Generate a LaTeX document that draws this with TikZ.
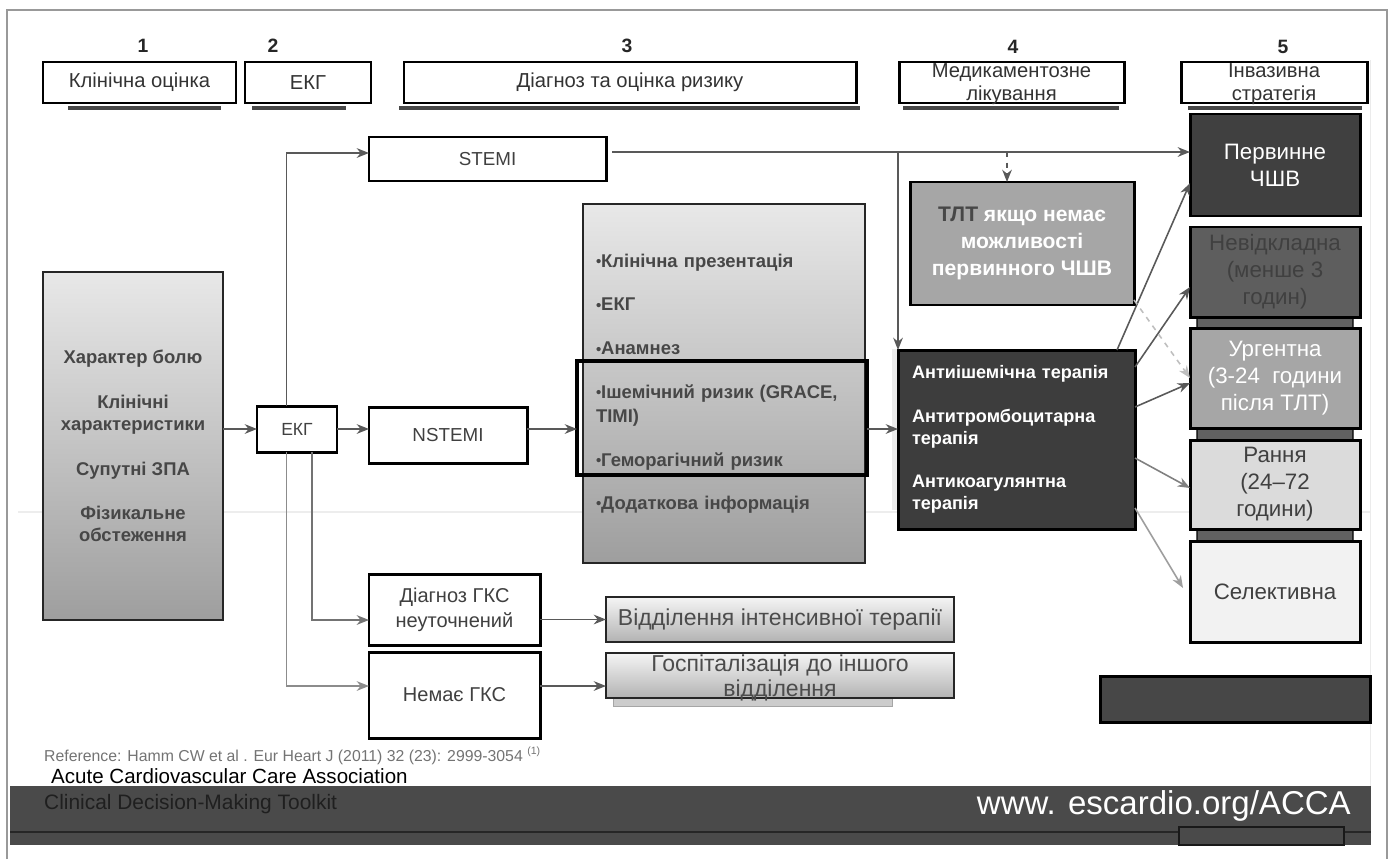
\documentclass[tikz,border=0pt]{standalone}
\usepackage{fontspec}
\setmainfont{Liberation Sans}
\usetikzlibrary{arrows.meta}
\newcommand\itm{\raisebox{0.3pt}{\fontsize{8.5}{8.5}\selectfont •}}

\begin{document}
\begin{tikzpicture}[x=0.02cm,y=-0.02cm,
  box/.style={draw,line width=1.7pt,inner sep=0pt,outer sep=0pt,align=center},
  hdr/.style={box,fill=white,minimum height=41*\px},
  htxt/.style={align=center,text=black!80,font=\fontsize{11.5}{13}\selectfont},
  num/.style={font=\bfseries\fontsize{11}{11}\selectfont,text=black!85},
  bar/.style={fill=black!72},
  wbox/.style={box,fill=white,text=black!75,font=\fontsize{11.4}{14.2}\selectfont},
  gbox/.style={draw=black!85,line width=0.6pt,inner sep=0pt,outer sep=0pt,top color=black!9,bottom color=black!38},
  btxt/.style={font=\bfseries\fontsize{10.5}{12.5}\selectfont,text=black!72},
  col/.style={box,minimum width=170*\px,font=\fontsize{12.7}{15.3}\selectfont},
  stack/.style={draw=black,line width=0.8pt,fill=black!62,rounded corners=1pt},
  conn/.style={-{Stealth[length=7pt,width=5.5pt]},line width=0.9pt,draw=black!65},
]
\def\px{0.02cm}

\useasboundingbox (0,0) rectangle (1392,859);
\draw[black!40,line width=0.9pt] (7,859) -- (7,10) -- (1387,10) -- (1387,859);
\draw[black!8] (1370,60) -- (1370,786);
\draw[black!7,line width=0.8pt] (18,512) -- (1370,512);

% column heads
\node[num] (n1) at (143,46) {1};
\node[num] (n2) at (273,46) {2};
\node[num] (n3) at (627,46) {3};
\node[num] (n4) at (1013,47) {4};
\node[num] (n5) at (1283,47) {5};
\node[hdr,htxt,minimum width=193*\px] (h1) at (139.5,82.5) {Клінічна оцінка};
\node[hdr,htxt,minimum width=126*\px] (h2) at (308,82.5) {ЕКГ};
\node[hdr,htxt,minimum width=452*\px] (h3) at (630,82.5) {Діагноз та оцінка ризику};
\node[hdr,minimum width=225*\px] (h4) at (1011.5,82.5) {};
\node[htxt] (h4t) at (1011.5,84) {Медикаментозне\\лікування};
\node[hdr,minimum width=186*\px] (h5) at (1274,82.5) {};
\node[htxt] (h5t) at (1274,84) {Інвазивна\\стратегія};
\fill[bar] (68,106) rectangle (221,110);
\fill[bar] (252,106) rectangle (346,110);
\fill[bar] (399,106) rectangle (860,110);
\fill[bar] (903,106) rectangle (1119,110);
\fill[bar] (1188,106) rectangle (1362,110);

% assessment and risk
\node[gbox,btxt,align=center,minimum width=180*\px,minimum height=348*\px] (pain) at (133,446)
  {Характер болю\\[13pt]Клінічні\\характеристики\\[13pt]Супутні ЗПА\\[13pt]Фізикальне\\обстеження};
\node[box,text=black!75,font=\fontsize{10}{12}\selectfont,minimum width=80*\px,minimum height=46*\px] (ekg) at (297,429) {ЕКГ};
\node[box,text=black!75,font=\fontsize{10.7}{12}\selectfont,minimum width=237*\px,minimum height=44*\px] (stemi) at (487.5,159) {STEMI};
\node[box,text=black!75,font=\fontsize{10.7}{12}\selectfont,minimum width=158*\px,minimum height=56*\px] (nstemi) at (448,435) {NSTEMI};
\node[gbox,font=\bfseries\fontsize{10.5}{13.6}\selectfont,text=black!72,align=left,text width=256*\px,minimum width=282*\px,minimum height=359*\px] (risk) at (724,383.5)
  {\itm Клінічна презентація\\[11.3pt]\itm ЕКГ\\[11.3pt]\itm Анамнез\\[11.3pt]\itm Ішемічний ризик (GRACE,\\TIMI)\\[11.3pt]\itm Геморагічний ризик\\[11pt]\itm Додаткова інформація};
\node[draw,line width=2.8pt,inner sep=0pt,outer sep=0pt,minimum width=290*\px,minimum height=114*\px] (hl) at (722,418) {};

% treatment
\fill[black!8] (892,349) rectangle (900,510);
\node[box,fill=black!35,text=white,font=\bfseries\fontsize{12}{15.3}\selectfont,minimum width=224*\px,minimum height=123*\px] (tlt) at (1022,243.5)
  {{\color{black!72}ТЛТ} якщо немає\\можливості\\первинного ЧШВ};
\node[box,fill=black!76,text=white,font=\bfseries\fontsize{10.3}{12.5}\selectfont,align=left,text width=209*\px,minimum width=237*\px,minimum height=179*\px] (ther) at (1016.5,439.5)
  {Антиішемічна терапія\\[12.4pt]Антитромбоцитарна\\терапія\\[12.4pt]Антикоагулянтна\\терапія};

% invasive strategy
\draw[stack] (1197,312) rectangle (1353,332);
\draw[stack] (1197,422) rectangle (1353,444);
\draw[stack] (1197,523) rectangle (1353,545);
\node[col,fill=black!75,text=white,minimum height=102*\px] (pci) at (1275,165) {Первинне\\ЧШВ};
\node[col,fill=black!63,text=black!75,minimum height=90*\px] (urg0) at (1275,272) {Невідкладна\\(менше 3\\годин)};
\node[col,fill=black!35,text=white,minimum height=100*\px] (urg) at (1275,378) {Ургентна\\(3-24~ години\\після ТЛТ)};
\node[col,fill=black!14,text=black!75,minimum height=89*\px] (early) at (1275,484.5) {Рання\\(24–72\\години)};
\node[col,fill=black!5,text=black!75,minimum height=101*\px] (sel) at (1275,591.5) {Селективна};
\draw[line width=1.7pt,fill=black!72] (1100,676) rectangle (1370,722);

% other outcomes
\node[wbox,minimum width=171*\px,minimum height=71*\px] (diag) at (454.5,609.5) {Діагноз ГКС\\неуточнений};
\node[wbox,minimum width=171*\px,minimum height=86*\px] (none) at (454.5,695) {Немає ГКС};
\node[gbox,top color=black!4,bottom color=black!30,text=black!70,font=\fontsize{13.1}{14.2}\selectfont,minimum width=348*\px,minimum height=45*\px] (icu) at (780,619.5) {Відділення інтенсивної терапії};
\fill[black!20,draw=black!35] (613,690) rectangle (892,706);
\node[gbox,top color=black!4,bottom color=black!30,minimum width=348*\px,minimum height=45*\px] (hosp) at (780,675.5) {};
\node[align=center,text=black!70,font=\fontsize{13.1}{14.2}\selectfont] (hospt) at (780,678) {Госпіталізація до іншого\\відділення};

% connectors
\coordinate (sx) at (612,152);
\draw[conn] ([xshift=-10.5*\px]ekg.north) |- ([yshift=6*\px]stemi.west);
\draw[conn] (sx) -- (sx -| pci.west);
\draw[conn] (sx -| ther.north west) -- (ther.north west);
\draw[conn,dashed] ([xshift=-15*\px]tlt.north |- sx) -- ([xshift=-15*\px]tlt.north);
\draw[conn] (pain.east |- ekg.west) -- (ekg.west);
\draw[conn] (ekg.east) -- (ekg.east -| nstemi.west);
\draw[conn] (nstemi.east |- ekg.east) -- (hl.west |- ekg.east);
\draw[conn] (hl.east |- ekg.east) -- (ther.west |- ekg.east);
\draw[conn,draw=black!55] ([xshift=15*\px]ekg.south) |- ([yshift=-10.5*\px]diag.west);
\draw[conn,draw=black!45] ([xshift=-10.5*\px]ekg.south) |- ([yshift=9*\px]none.west);
\draw[conn] (diag.east |- icu.west) -- (icu.west);
\draw[conn] ([yshift=-10.5*\px]hosp.west -| none.east) -- ([yshift=-10.5*\px]hosp.west);
\draw[conn] ([xshift=-18*\px]ther.north east) -- ([yshift=-18*\px]pci.west);
\draw[conn] ([yshift=-17*\px]ther.north east) -- ([yshift=-15*\px]urg0.west);
\draw[conn,draw=black!25,dashed] ([yshift=5*\px]tlt.south east) -- (urg.west);
\draw[conn] ([yshift=32.5*\px]ther.east) -- ([yshift=-5*\px]urg.west);
\draw[conn,draw=black!50] ([yshift=-18.5*\px]ther.east) -- ([yshift=-3.5*\px]early.west);
\draw[conn,draw=black!38] ([yshift=-68.5*\px]ther.east) -- ([xshift=-7*\px,yshift=3.5*\px]sel.west);

% footer
\node[anchor=west,text=black!55,font=\fontsize{9}{10}\selectfont] (ref) at (38,756) {Reference: Hamm CW et al . Eur Heart J (2011) 32 (23): 2999-3054 \textsuperscript{(1)}};
\node[anchor=west,text=black,font=\fontsize{11.7}{13}\selectfont] (acca) at (45,776) {Acute Cardiovascular Care Association};
\fill[black!71] (10,786) rectangle (1371,845);
\draw[black!85,line width=0.6pt] (10,832) -- (1371,832);
\draw[black!90,line width=0.6pt,fill=black!71] (1179,827) rectangle (1344,845);
\node[anchor=west,text=black!88,font=\fontsize{11.9}{13}\selectfont] (kit) at (38,804) {Clinical Decision-Making Toolkit};
\node[anchor=east,text=white,font=\fontsize{18.8}{20}\selectfont] (www) at (1357,806) {www. escardio.org/ACCA};
\end{tikzpicture}
\end{document}
